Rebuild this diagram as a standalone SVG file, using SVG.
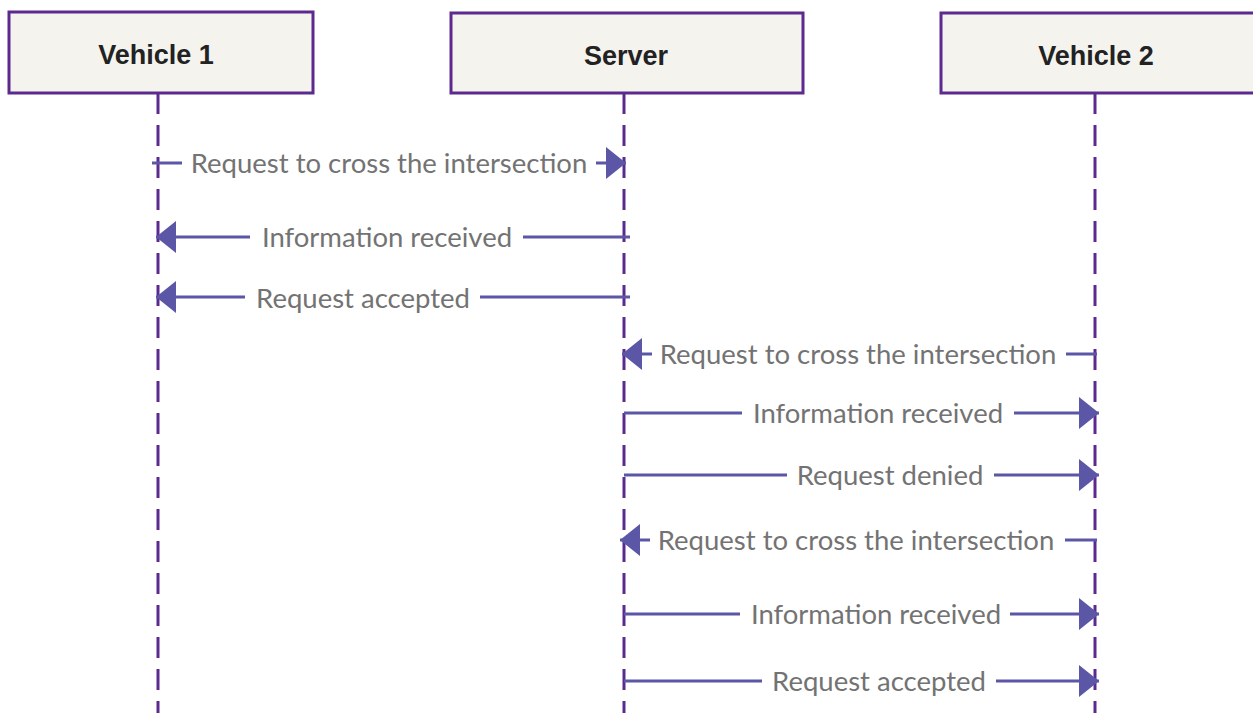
<svg xmlns="http://www.w3.org/2000/svg" width="1253" height="713" viewBox="0 0 1253 713">
  <style>
    .box { fill: #f5f3ee; stroke: #5c2a8e; stroke-width: 3; }
    .title { font-family: "Liberation Sans", Arial, sans-serif; font-weight: bold; font-size: 27px; fill: #222; text-anchor: middle; }
    .life { stroke: #5c2a8e; stroke-width: 3; stroke-dasharray: 21 11; fill: none; }
    .msg { stroke: #5b56a6; stroke-width: 3; fill: none; }
    .lbl { font-family: Lato, "Open Sans", sans-serif; font-size: 27.5px; fill: #737373; text-anchor: middle; }
  </style>
  <defs>
    <marker id="head" viewBox="0 0 20 32" refX="20" refY="16" markerWidth="20" markerHeight="32" markerUnits="userSpaceOnUse" orient="auto">
      <path d="M0,0 L20,16 L0,32 Z" fill="#5b56a6"/>
    </marker>
  </defs>
  <rect width="1253" height="713" fill="#ffffff"/>

  <!-- participants -->
  <g id="vehicle1">
    <rect class="box" x="9" y="12" width="304" height="81"/>
    <text class="title" x="156" y="64">Vehicle 1</text>
  </g>
  <g id="server">
    <rect class="box" x="451" y="13" width="352" height="80"/>
    <text class="title" x="626" y="65">Server</text>
  </g>
  <g id="vehicle2">
    <rect class="box" x="941" y="13" width="314" height="80"/>
    <text class="title" x="1096" y="65">Vehicle 2</text>
  </g>

  <!-- lifelines -->
  <g id="lifelines">
    <line class="life" x1="158" y1="93" x2="158" y2="713"/>
    <line class="life" x1="624" y1="93" x2="624" y2="713"/>
    <line class="life" x1="1095" y1="93" x2="1095" y2="713"/>
  </g>

  <!-- messages -->
  <g id="connectors">
    <line class="msg" x1="152" y1="163" x2="182" y2="163"/>
    <line class="msg" x1="596" y1="163" x2="626" y2="163" marker-end="url(#head)"/>

    <line class="msg" x1="630" y1="237" x2="523" y2="237"/>
    <line class="msg" x1="250" y1="237" x2="156" y2="237" marker-end="url(#head)"/>

    <line class="msg" x1="630" y1="297" x2="480" y2="297"/>
    <line class="msg" x1="245" y1="297" x2="156" y2="297" marker-end="url(#head)"/>

    <line class="msg" x1="1097" y1="354" x2="1066" y2="354"/>
    <line class="msg" x1="652" y1="354" x2="622" y2="354" marker-end="url(#head)"/>

    <line class="msg" x1="624" y1="413" x2="742" y2="413"/>
    <line class="msg" x1="1014" y1="413" x2="1099" y2="413" marker-end="url(#head)"/>

    <line class="msg" x1="624" y1="475" x2="787" y2="475"/>
    <line class="msg" x1="994" y1="475" x2="1099" y2="475" marker-end="url(#head)"/>

    <line class="msg" x1="1097" y1="540" x2="1065" y2="540"/>
    <line class="msg" x1="650" y1="540" x2="620" y2="540" marker-end="url(#head)"/>

    <line class="msg" x1="624" y1="614" x2="740" y2="614"/>
    <line class="msg" x1="1010" y1="614" x2="1099" y2="614" marker-end="url(#head)"/>

    <line class="msg" x1="624" y1="681" x2="762" y2="681"/>
    <line class="msg" x1="996" y1="681" x2="1099" y2="681" marker-end="url(#head)"/>
  </g>

  <!-- message labels -->
  <g id="labels">
    <text class="lbl" x="389" y="173">Request to cross the intersection</text>
    <text class="lbl" x="387" y="247">Information received</text>
    <text class="lbl" x="363" y="308">Request accepted</text>
    <text class="lbl" x="858" y="364">Request to cross the intersection</text>
    <text class="lbl" x="878" y="423">Information received</text>
    <text class="lbl" x="890" y="485">Request denied</text>
    <text class="lbl" x="856" y="550">Request to cross the intersection</text>
    <text class="lbl" x="876" y="624">Information received</text>
    <text class="lbl" x="879" y="691">Request accepted</text>
  </g>
</svg>
